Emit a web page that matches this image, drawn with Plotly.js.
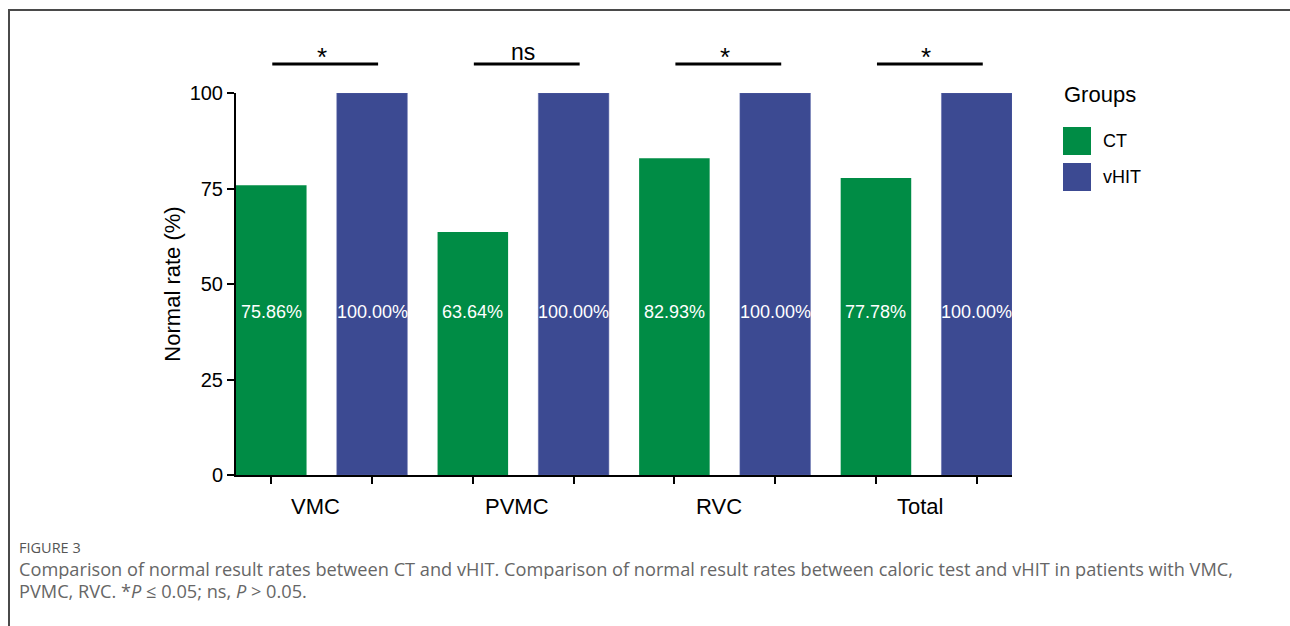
<!DOCTYPE html>
<html>
<head>
<meta charset="utf-8">
<script src="https://cdn.plot.ly/plotly-3.0.1.min.js"></script>
<style>html,body{margin:0;padding:0;background:#fff;}#chart{width:1290px;height:626px;}</style>
</head>
<body>
<div id="chart"></div>
<script>
// ---- data ----
const categories = ["VMC", "PVMC", "RVC", "Total"];
const ctValues = [75.86, 63.64, 82.93, 77.78];
const vhitValues = [100.00, 100.00, 100.00, 100.00];
const sigLabels = ["*", "ns", "*", "*"];
const seriesNames = ["CT", "vHIT"];
const yTicks = [0, 25, 50, 75, 100];

// ---- layout helpers ----
const W = 1290, H = 626;
const L = 236, R = 1012, T = 93, B = 475;
const px = x => (x - L) / (R - L);
const py = y => (B - y) / (B - T);

const green = "#008C45";
const blue = "#3C4A92";
const font = "Liberation Sans, Arial, sans-serif";

const idx = categories.map((c, i) => i);
const ctX = idx.map(i => i - 0.25);
const vhX = idx.map(i => i + 0.25);

const traces = [
  {type: "bar", x: ctX, y: ctValues, width: 0.35, name: seriesNames[0],
   marker: {color: green}, showlegend: false, hoverinfo: "skip"},
  {type: "bar", x: vhX, y: vhitValues, width: 0.35, name: seriesNames[1],
   marker: {color: blue, line: {color: "#5a66a8", width: 0.5}}, showlegend: false, hoverinfo: "skip"}
];

const annotations = [];
const shapes = [];
const fmt = v => v.toFixed(2) + "%";
const labelY = 42.67;
idx.forEach(i => {
  annotations.push({x: ctX[i], y: labelY, xref: "x", yref: "y", text: fmt(ctValues[i]), showarrow: false,
    font: {family: font, size: 18, color: "#fff"}, xanchor: "center", yanchor: "middle"});
  annotations.push({x: vhX[i], y: labelY, xref: "x", yref: "y", text: fmt(vhitValues[i]), showarrow: false,
    font: {family: font, size: 18, color: "#fff"}, xanchor: "center", yanchor: "middle"});
  // category label
  annotations.push({x: i, y: py(506), xref: "x", yref: "paper", text: categories[i], showarrow: false,
    font: {family: font, size: 22, color: "#000"}, xanchor: "center", yanchor: "middle", xshift: -6});
  // significance bar
  shapes.push({type: "line", xref: "x", yref: "paper", x0: ctX[i] + 0.005, x1: vhX[i] + 0.03,
    y0: py(64), y1: py(64), line: {color: "#000", width: 3}});
  const isStar = sigLabels[i] === "*";
  annotations.push({x: i, y: isStar ? py(57) : py(52), xref: "x", yref: "paper", text: sigLabels[i], showarrow: false,
    font: {family: font, size: isStar ? 26 : 23, color: "#000"}, xanchor: "center", yanchor: "middle"});
});

// legend (manual)
annotations.push({x: px(1062), y: py(95), xref: "paper", yref: "paper", text: "Groups", showarrow: false,
  font: {family: font, size: 22, color: "#000"}, xanchor: "left", yanchor: "middle"});
const legendRows = [{name: seriesNames[0], color: green, top: 127}, {name: seriesNames[1], color: blue, top: 163}];
legendRows.forEach(r => {
  shapes.push({type: "rect", xref: "paper", yref: "paper", x0: px(1063), x1: px(1091), y0: py(r.top + 28), y1: py(r.top),
    fillcolor: r.color, line: {width: 0}});
  annotations.push({x: px(1101), y: py(r.top + 14), xref: "paper", yref: "paper", text: r.name, showarrow: false,
    font: {family: font, size: 18, color: "#000"}, xanchor: "left", yanchor: "middle"});
});

// frame
shapes.push({type: "line", xref: "paper", yref: "paper", x0: px(9), x1: px(1292), y0: py(10), y1: py(10),
  line: {color: "#4a4a4a", width: 2}});
shapes.push({type: "line", xref: "paper", yref: "paper", x0: px(9), x1: px(9), y0: py(9), y1: py(630),
  line: {color: "#4a4a4a", width: 2}});

// caption
const capFont = "Open Sans, Lato, sans-serif";
annotations.push({x: px(17), y: py(547), xref: "paper", yref: "paper", text: "FIGURE 3", showarrow: false,
  font: {family: capFont, size: 14.5, color: "#555"}, xanchor: "left", yanchor: "middle", height: 15});
annotations.push({x: px(17), y: py(569), xref: "paper", yref: "paper",
  text: "Comparison of normal result rates between CT and vHIT. Comparison of normal result rates between caloric test and vHIT in patients with VMC,",
  showarrow: false, font: {family: capFont, size: 18.2, color: "#666"}, xanchor: "left", yanchor: "middle", height: 20});
annotations.push({x: px(17), y: py(591), xref: "paper", yref: "paper",
  text: "PVMC, RVC. *<i>P</i> ≤ 0.05; ns, <i>P</i> > 0.05.",
  showarrow: false, font: {family: capFont, size: 18.2, color: "#666"}, xanchor: "left", yanchor: "middle", height: 20});

const layout = {
  width: W, height: H,
  margin: {l: L, r: W - R, t: T, b: H - B, pad: 0},
  paper_bgcolor: "#fff", plot_bgcolor: "#fff",
  showlegend: false,
  barmode: "overlay",
  xaxis: {range: [-0.425, 3.425], tickvals: ctX.concat(vhX), ticktext: ctX.concat(vhX).map(() => ""),
    ticks: "outside", ticklen: 7, tickwidth: 2, tickcolor: "#000",
    showline: true, linewidth: 2, linecolor: "#000", showgrid: false, zeroline: false, fixedrange: true},
  yaxis: {range: [0, 100], tickvals: yTicks, ticktext: yTicks.map(String),
    ticks: "outside", ticklen: 7, tickwidth: 2, tickcolor: "#000",
    showline: true, linewidth: 2, linecolor: "#000", showgrid: false, zeroline: false,
    tickfont: {family: font, size: 20, color: "#000"},
    title: {text: "Normal rate (%)", font: {family: font, size: 22, color: "#000"}, standoff: 3},
    fixedrange: true},
  annotations: annotations,
  shapes: shapes
};

Plotly.newPlot("chart", traces, layout, {displayModeBar: false, staticPlot: true});
</script>
</body>
</html>
